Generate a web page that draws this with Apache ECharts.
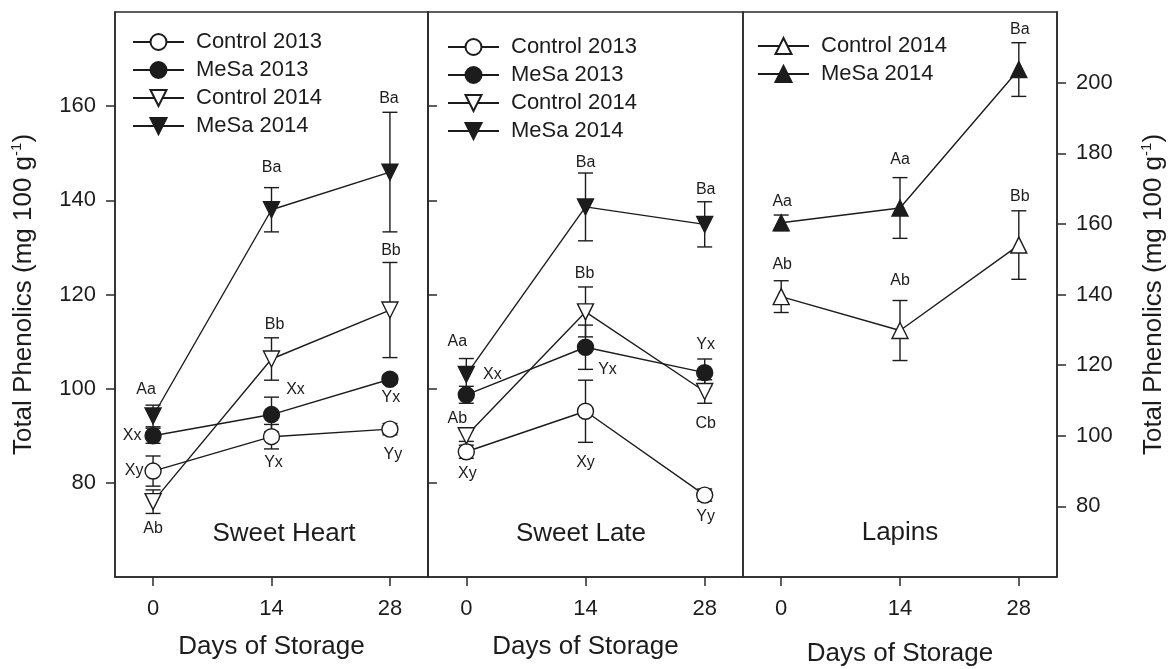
<!DOCTYPE html>
<html>
<head>
<meta charset="utf-8">
<script src="https://cdn.jsdelivr.net/npm/echarts@6/dist/echarts.min.js"></script>
<style>
html,body{margin:0;padding:0;background:#fff;}
#chart{width:1170px;height:669px;}
</style>
</head>
<body>
<div id="chart"></div>
<script>
// ---------------- data ----------------
const days = [0, 14, 28];
const dayTicks = [0, 14, 28];
const leftTicks = [80, 100, 120, 140, 160];
const rightTicks = [80, 100, 120, 140, 160, 180, 200];
const cultivars = ['Sweet Heart', 'Sweet Late', 'Lapins'];
const xTitle = 'Days of Storage';
const seriesNames = ['Control 2013', 'MeSa 2013', 'Control 2014', 'MeSa 2014'];

// Sweet Heart
const shControl2013 = [82.5, 89.8, 91.4];
const shControl2013Err = [3.2, 2.6, 1.2];
const shControl2013Letters = ['Xy', 'Yx', 'Yy'];
const shMeSa2013 = [90.0, 94.5, 102.0];
const shMeSa2013Err = [1.6, 3.7, 0.9];
const shMeSa2013Letters = ['Xx', 'Xx', 'Yx'];
const shControl2014 = [76.0, 106.3, 116.7];
const shControl2014Err = [2.5, 4.5, 10.1];
const shControl2014Letters = ['Ab', 'Bb', 'Bb'];
const shMeSa2014 = [94.2, 138.0, 146.0];
const shMeSa2014Err = [2.3, 4.7, 12.7];
const shMeSa2014Letters = ['Aa', 'Ba', 'Ba'];

// Sweet Late
const slControl2013 = [86.6, 95.2, 77.4];
const slControl2013Err = [1.4, 6.6, 1.3];
const slControl2013Letters = ['Xy', 'Xy', 'Yy'];
const slMeSa2013 = [98.7, 108.8, 103.4];
const slMeSa2013Err = [1.8, 4.7, 2.9];
const slMeSa2013Letters = ['Xx', 'Yx', 'Yx'];
const slControl2014 = [90.0, 116.3, 99.4];
const slControl2014Err = [1.2, 5.3, 2.5];
const slControl2014Letters = ['Ab', 'Bb', 'Cb'];
const slMeSa2014 = [103.0, 138.6, 134.9];
const slMeSa2014Err = [3.4, 7.2, 4.8];
const slMeSa2014Letters = ['Aa', 'Ba', 'Ba'];

// Lapins
const lpControl2014 = [139.4, 129.8, 154.0];
const lpControl2014Err = [4.5, 8.5, 9.7];
const lpControl2014Letters = ['Ab', 'Ab', 'Bb'];
const lpMeSa2014 = [160.3, 164.5, 203.7];
const lpMeSa2014Err = [2.2, 8.6, 7.6];
const lpMeSa2014Letters = ['Aa', 'Aa', 'Ba'];

// ---------------- styles / layout ----------------
const FONT = '"Liberation Sans", Arial, Helvetica, sans-serif';
const INK = '#1c1c1c';
const AXIS = '#2a2a2a';

// letter placement: [anchor ('hi' upper cap, 'lo' lower cap, 'pt' point), dx, dy] in px
const shPlace = {
  'Control 2013': [['pt', -19, 0], ['lo', 2, 14], ['lo', 3, 20]],
  'MeSa 2013': [['pt', -21, 0], ['pt', 24, -25], ['lo', 1, 14]],
  'Control 2014': [['lo', 0, 15], ['hi', 3, -13], ['hi', 1, -12]],
  'MeSa 2014': [['hi', -7, -16], ['hi', 0, -20], ['hi', -1, -14]]
};
const slPlace = {
  'Control 2013': [['lo', 1, 15], ['lo', 0, 20], ['lo', 1, 15]],
  'MeSa 2013': [['pt', 26, -20], ['pt', 22, 22], ['hi', 1, -14]],
  'Control 2014': [['hi', -9, -12], ['hi', -1, -13], ['lo', 1, 20]],
  'MeSa 2014': [['hi', -9, -17], ['hi', 0, -10], ['hi', 1, -12]]
};
const lpPlace = {
  'Control 2014': [['hi', 1, -16], ['hi', 0, -20], ['hi', 1, -14]],
  'MeSa 2014': [['hi', 1, -13], ['hi', 0, -18], ['hi', 1, -13]]
};

const panels = [
  {
    key: 'SH', grid: {left: 115, top: 12, width: 313, height: 565}, yMin: 60, yMax: 180, triRotate: 180,
    legendPos: {left: 132, top: 31},
    groups: [
      ['Control 2013', shControl2013, shControl2013Err, shControl2013Letters],
      ['MeSa 2013', shMeSa2013, shMeSa2013Err, shMeSa2013Letters],
      ['Control 2014', shControl2014, shControl2014Err, shControl2014Letters],
      ['MeSa 2014', shMeSa2014, shMeSa2014Err, shMeSa2014Letters]
    ], place: shPlace, labelPos: [284, 534]
  },
  {
    key: 'SL', grid: {left: 428, top: 12, width: 315, height: 565}, yMin: 60, yMax: 180, triRotate: 180,
    legendPos: {left: 447, top: 36},
    groups: [
      ['Control 2013', slControl2013, slControl2013Err, slControl2013Letters],
      ['MeSa 2013', slMeSa2013, slMeSa2013Err, slMeSa2013Letters],
      ['Control 2014', slControl2014, slControl2014Err, slControl2014Letters],
      ['MeSa 2014', slMeSa2014, slMeSa2014Err, slMeSa2014Letters]
    ], place: slPlace, labelPos: [581, 534]
  },
  {
    key: 'LP', grid: {left: 743, top: 12, width: 314, height: 565}, yMin: 60, yMax: 220, triRotate: 0,
    legendPos: {left: 757, top: 35},
    groups: [
      ['Control 2014', lpControl2014, lpControl2014Err, lpControl2014Letters],
      ['MeSa 2014', lpMeSa2014, lpMeSa2014Err, lpMeSa2014Letters]
    ], place: lpPlace, labelPos: [900, 533]
  }
];

function markerFor(name, triRotate) {
  const filled = name.indexOf('MeSa') === 0;
  const tri = name.indexOf('2014') > 0;
  return {
    symbol: tri ? 'triangle' : 'circle',
    rotate: tri ? triRotate : 0,
    fill: filled ? INK : '#ffffff'
  };
}

const grids = [], xAxes = [], yAxes = [], series = [], legends = [], graphics = [];

const yTitle = '{a|Total Phenolics (mg 100 g}{s|-1}{a|)}';
const yTitleStyle = {
  color: INK, fontFamily: FONT, fontSize: 26,
  rich: {
    a: {fontSize: 26, fontFamily: FONT, color: INK, lineHeight: 30},
    s: {fontSize: 15, fontFamily: FONT, color: INK, verticalAlign: 'top', lineHeight: 16}
  }
};

panels.forEach(function (p, pi) {
  grids.push(Object.assign({
    show: true, borderColor: AXIS, borderWidth: 1.5, backgroundColor: 'transparent',
    containLabel: false, outerBoundsMode: 'none'
  }, p.grid));

  xAxes.push({
    type: 'value', gridIndex: pi, min: -4.5, max: 32.5, position: 'bottom',
    splitLine: {show: false},
    axisLine: {show: true, onZero: false, lineStyle: {color: AXIS, width: 1.5}},
    axisTick: {show: true, inside: false, length: 9, customValues: dayTicks, lineStyle: {color: AXIS, width: 1.5}},
    axisLabel: {show: true, customValues: dayTicks, margin: 21, fontSize: 22, fontFamily: FONT, color: INK},
    name: xTitle, nameLocation: 'middle', nameGap: pi === 2 ? 64 : 57,
    nameTextStyle: {fontSize: 26, fontFamily: FONT, color: INK}
  });

  const yTicks = pi === 2 ? rightTicks : leftTicks;
  const y = {
    type: 'value', gridIndex: pi, min: p.yMin, max: p.yMax,
    splitLine: {show: false},
    axisLine: {show: true, onZero: false, lineStyle: {color: AXIS, width: 1.5}},
    axisTick: {show: true, inside: false, length: 9, customValues: yTicks, lineStyle: {color: AXIS, width: 1.5}},
    axisLabel: {show: true, customValues: yTicks, margin: 19, fontSize: 22, fontFamily: FONT, color: INK}
  };
  if (pi === 0) {
    y.position = 'left';
    y.name = yTitle; y.nameLocation = 'middle'; y.nameRotate = 90; y.nameGap = 76;
    y.nameTextStyle = yTitleStyle;
  } else if (pi === 1) {
    y.position = 'left';
    y.axisTick.inside = true;
    y.axisLabel.show = false;
  } else {
    y.position = 'right';
    y.name = yTitle; y.nameLocation = 'middle'; y.nameRotate = 90; y.nameGap = 82;
    y.nameTextStyle = yTitleStyle;
  }
  yAxes.push(y);

  const legendData = [];
  p.groups.forEach(function (g) {
    const label = g[0], vals = g[1], errs = g[2], letters = g[3];
    const place = p.place[label];
    const m = markerFor(label, p.triRotate);
    const sName = label + '|' + p.key;
    legendData.push(sName);

    // error bars + significance letters
    series.push({
      type: 'custom', name: sName + '|err', xAxisIndex: pi, yAxisIndex: pi, z: 1, clip: false,
      silent: true,
      data: days.map(function (d, i) { return [d, vals[i], errs[i], i]; }),
      renderItem: function (params, api) {
        const x = api.value(0), v = api.value(1), e = api.value(2), i = api.value(3);
        const pt = api.coord([x, v]);
        const hi = api.coord([x, v + e]);
        const lo = api.coord([x, v - e]);
        const cap = 7.5;
        const ls = {stroke: INK, lineWidth: 1.4};
        const pl = place[i];
        const anchor = pl[0] === 'hi' ? hi : (pl[0] === 'lo' ? lo : pt);
        return {
          type: 'group',
          children: [
            {type: 'line', shape: {x1: hi[0], y1: hi[1], x2: lo[0], y2: lo[1]}, style: ls},
            {type: 'line', shape: {x1: hi[0] - cap, y1: hi[1], x2: hi[0] + cap, y2: hi[1]}, style: ls},
            {type: 'line', shape: {x1: lo[0] - cap, y1: lo[1], x2: lo[0] + cap, y2: lo[1]}, style: ls},
            {type: 'text', x: anchor[0] + pl[1], y: anchor[1] + pl[2], z2: 10,
              style: {text: letters[i], fontSize: 16, fontFamily: FONT, fill: INK, align: 'center', verticalAlign: 'middle'}}
          ]
        };
      }
    });

    // line + markers
    series.push({
      type: 'line', name: sName, xAxisIndex: pi, yAxisIndex: pi, z: 3,
      data: days.map(function (d, i) { return [d, vals[i]]; }),
      symbol: m.symbol, symbolRotate: m.rotate, symbolSize: 16, showAllSymbol: true,
      itemStyle: {color: m.fill, borderColor: INK, borderWidth: 1.4, opacity: 1},
      lineStyle: {color: INK, width: 1.4},
      emphasis: {disabled: true},
      animation: false
    });
  });

  legends.push({
    show: true, orient: 'vertical', left: p.legendPos.left, top: p.legendPos.top,
    padding: 0, itemGap: 6, itemWidth: 51, itemHeight: 20, selectedMode: false,
    data: legendData,
    formatter: function (n) { return n.split('|')[0]; },
    textStyle: {fontSize: 22, fontFamily: FONT, color: INK, padding: [0, 0, 0, 7]}
  });

  graphics.push({
    type: 'text', x: p.labelPos[0], y: p.labelPos[1],
    style: {text: cultivars[pi], fontSize: 26, fontFamily: FONT, fill: INK, align: 'center', verticalAlign: 'middle'}
  });
});

const chart = echarts.init(document.getElementById('chart'), null, {renderer: 'canvas'});
chart.setOption({
  backgroundColor: '#ffffff',
  animation: false,
  tooltip: {show: false},
  grid: grids,
  xAxis: xAxes,
  yAxis: yAxes,
  legend: legends,
  series: series,
  graphic: graphics
});
</script>
</body>
</html>
